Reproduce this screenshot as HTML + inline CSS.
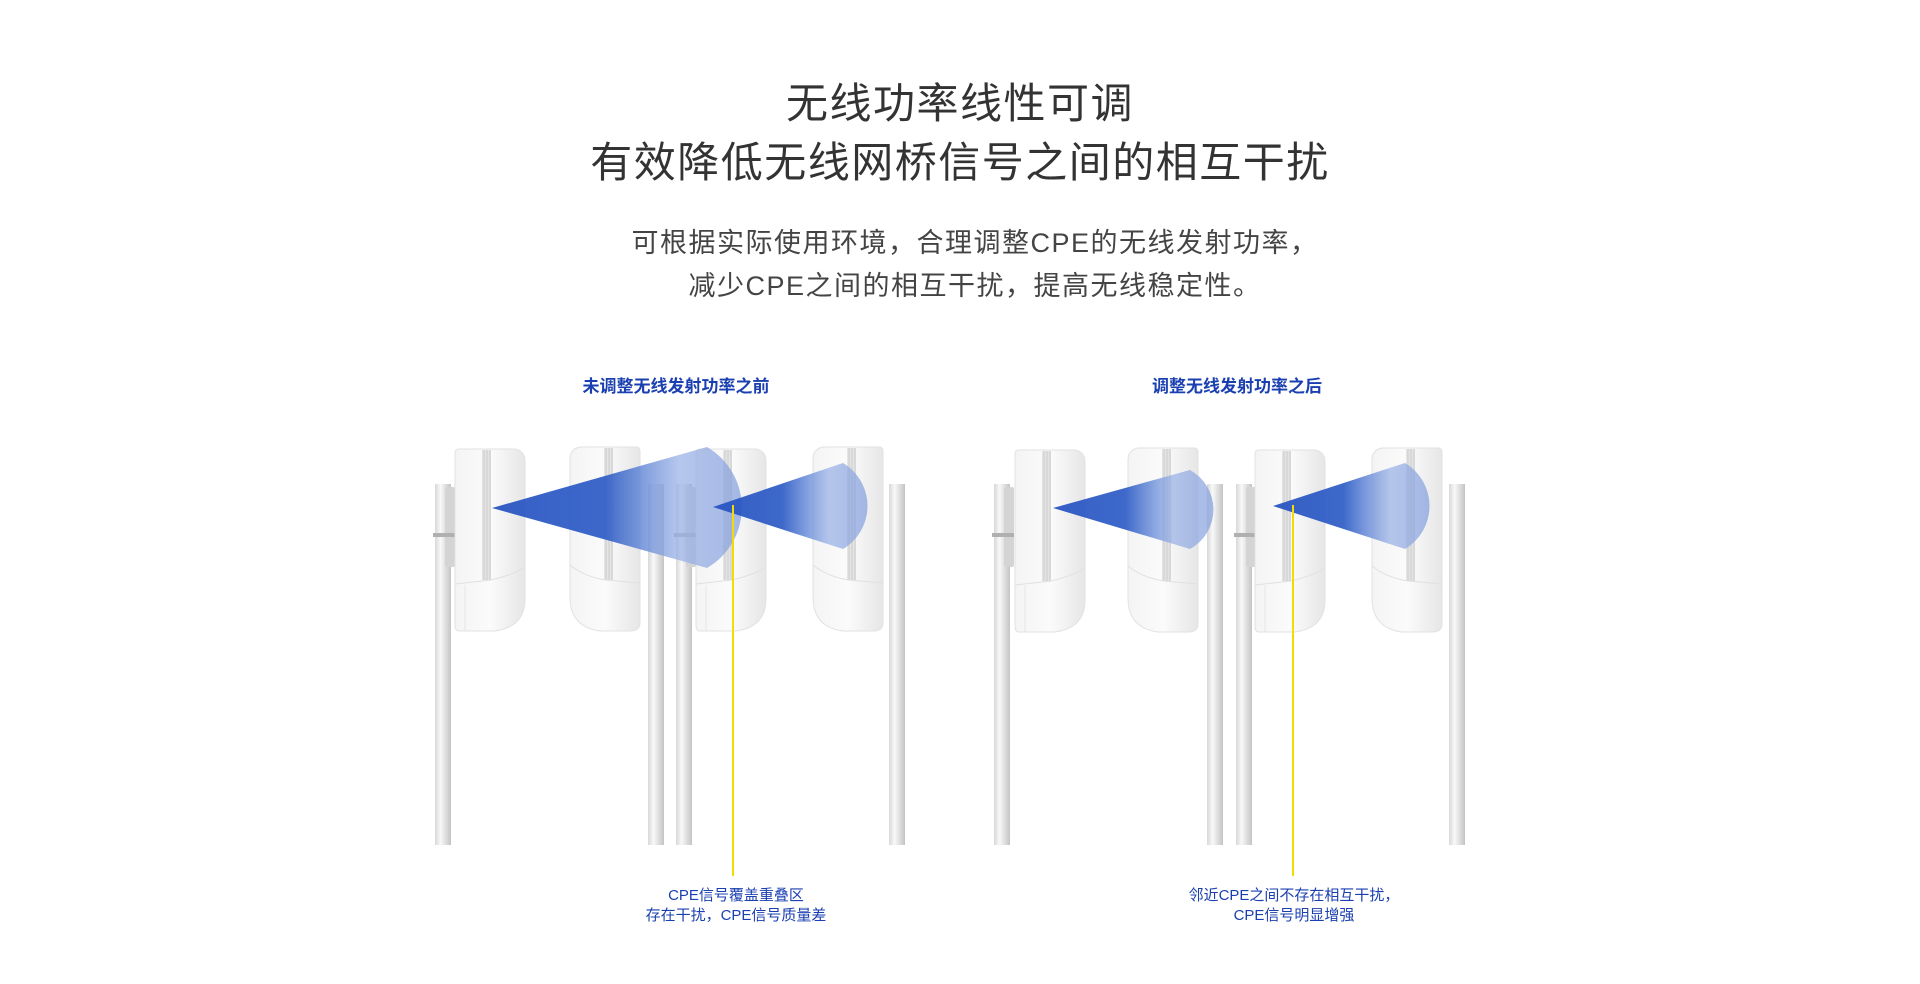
<!DOCTYPE html>
<html><head><meta charset="utf-8"><style>
html,body{margin:0;padding:0;background:#fff;width:1920px;height:984px;overflow:hidden}
.t{position:absolute;left:0;width:1920px;text-align:center;font-family:"Liberation Sans","Noto Sans CJK SC",sans-serif}
</style></head><body>
<div class="t" style="top:70px;font-size:42px;color:#333;letter-spacing:1.5px">无线功率线性可调</div>
<div class="t" style="top:129px;font-size:42px;color:#333;letter-spacing:1.5px">有效降低无线网桥信号之间的相互干扰</div>
<div class="t" style="top:221px;left:15px;font-size:27px;color:#444;letter-spacing:1.5px">可根据实际使用环境，合理调整CPE的无线发射功率，</div>
<div class="t" style="top:264px;left:15px;font-size:27px;color:#444;letter-spacing:1.5px">减少CPE之间的相互干扰，提高无线稳定性。</div>
<div class="t" style="top:372px;left:-284px;font-size:17px;color:#1a3fb0;font-weight:bold">未调整无线发射功率之前</div>
<div class="t" style="top:372px;left:277px;font-size:17px;color:#1a3fb0;font-weight:bold">调整无线发射功率之后</div>
<div class="t" style="top:886px;left:-224px;font-size:15px;color:#1a3fb0;line-height:20px">CPE信号覆盖重叠区<br>存在干扰，CPE信号质量差</div>
<div class="t" style="top:886px;left:334px;font-size:15px;color:#1a3fb0;line-height:20px">邻近CPE之间不存在相互干扰，<br>CPE信号明显增强</div>
<svg width="1920" height="984" style="position:absolute;left:0;top:0">
<defs>
<linearGradient id="pole" x1="0" x2="1"><stop offset="0" stop-color="#d8d8d8"/><stop offset=".35" stop-color="#f8f8f8"/><stop offset="1" stop-color="#c4c4c4"/></linearGradient>
<linearGradient id="dev" x1="0" x2="1"><stop offset="0" stop-color="#f4f4f4"/><stop offset=".5" stop-color="#fbfbfb"/><stop offset="1" stop-color="#e6e6e6"/></linearGradient>
<linearGradient id="beam" x1="0" x2="1"><stop offset="0" stop-color="#2450c0"/><stop offset=".45" stop-color="#2d5cc6"/><stop offset=".75" stop-color="#9bb3e6" stop-opacity=".8"/><stop offset="1" stop-color="#7f9bdc" stop-opacity=".75"/></linearGradient>
<g id="polel"><rect x="0" y="0" width="16" height="361" fill="url(#pole)"/></g>
<g id="devA">
<path d="M0 4 Q0 0 4 0 L60 0 Q70 2 70 12 L70 150 Q70 178 40 182 L4 182 Q0 182 0 176Z" fill="url(#dev)" stroke="#e2e2e2"/>
<rect x="27" y="1" width="9" height="130" fill="#e4e4e4"/><line x1="29" y1="1" x2="29" y2="131" stroke="#ccc"/><line x1="32" y1="1" x2="32" y2="131" stroke="#ccc"/><line x1="35" y1="1" x2="35" y2="131" stroke="#ccc"/>
<path d="M0 135 L36 131 Q60 125 70 118" fill="none" stroke="#e0e0e0"/>
<line x1="10" y1="136" x2="10" y2="182" stroke="#e6e6e6"/>
</g>
<g id="devB">
<path d="M10 0 L66 0 Q70 0 70 4 L70 176 Q70 184 60 184 L30 184 Q0 180 0 150 L0 12 Q0 2 10 0Z" fill="url(#dev)" stroke="#e2e2e2"/>
<rect x="34" y="1" width="9" height="132" fill="#e4e4e4"/><line x1="36" y1="1" x2="36" y2="133" stroke="#ccc"/><line x1="39" y1="1" x2="39" y2="133" stroke="#ccc"/><line x1="42" y1="1" x2="42" y2="133" stroke="#ccc"/>
<path d="M0 118 Q15 130 36 133 L70 136" fill="none" stroke="#e0e0e0"/>
</g>
<g id="brL"><rect x="8" y="0" width="10" height="80" fill="#d4d4d4" rx="2"/><rect x="-4" y="46" width="22" height="4" fill="#b0b0b0"/></g>
</defs>
<use href="#polel" x="435" y="484"/><use href="#brL" x="437" y="487"/><use href="#devA" x="455" y="449"/>
<use href="#devB" x="570" y="447"/>
<use href="#polel" x="648" y="484"/>
<use href="#polel" x="676" y="484"/><use href="#brL" x="678" y="487"/><use href="#devA" x="696" y="449"/>
<use href="#devB" x="813" y="447"/>
<use href="#polel" x="889" y="484"/>
<path d="M492 508 L707 447 A70 70 0 0 1 707 568 Z" fill="url(#beam)" opacity=".92"/>
<path d="M713 507 L843 463 A50 50 0 0 1 843 549 Z" fill="url(#beam)" opacity=".92"/>
<line x1="733" y1="505" x2="733" y2="876" stroke="#f5dc00" stroke-width="2"/>
<use href="#polel" x="994" y="484"/><use href="#brL" x="996" y="487"/><use href="#devA" x="1015" y="450"/>
<use href="#devB" x="1128" y="448"/>
<use href="#polel" x="1207" y="484"/>
<use href="#polel" x="1236" y="484"/><use href="#brL" x="1238" y="487"/><use href="#devA" x="1255" y="450"/>
<use href="#devB" x="1372" y="448"/>
<use href="#polel" x="1449" y="484"/>
<path d="M1053 508 L1190 470 A45 45 0 0 1 1190 549 Z" fill="url(#beam)" opacity=".92"/>
<path d="M1273 506 L1405 463 A50 50 0 0 1 1405 549 Z" fill="url(#beam)" opacity=".92"/>
<line x1="1293" y1="505" x2="1293" y2="876" stroke="#f5dc00" stroke-width="2"/>
</svg>
</body></html>
